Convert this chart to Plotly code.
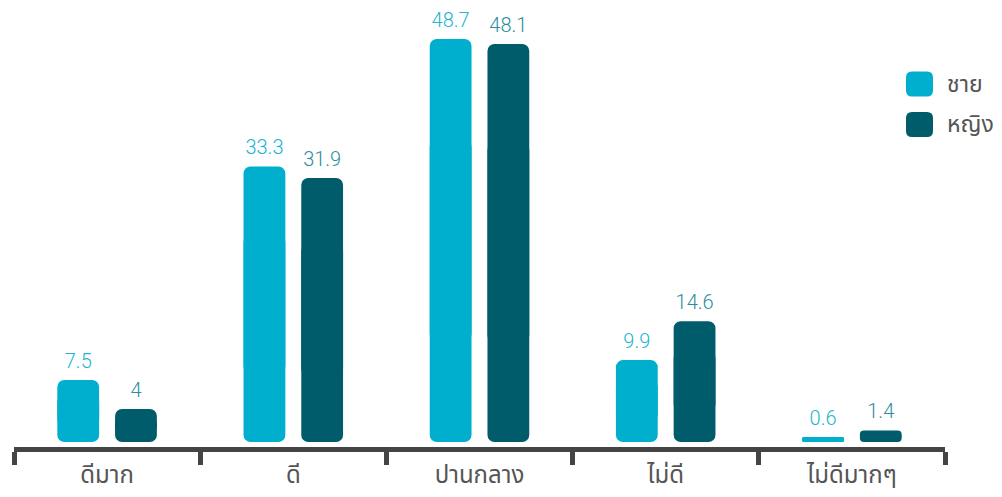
import plotly.graph_objects as go

categories = ["ดีมาก", "ดี", "ปานกลาง", "ไม่ดี", "ไม่ดีมากๆ"]
series_names = ["ชาย", "หญิง"]
male = [7.5, 33.3, 48.7, 9.9, 0.6]
female = [4.0, 31.9, 48.1, 14.6, 1.4]

bar_colors = ["#00AECE", "#005B6B"]
text_colors = ["#22B4D0", "#2B8E9E"]
FONT = "Roboto, 'Noto Sans Thai', 'Noto Sans', sans-serif"
LABEL_PAD = 0.5  # gap (in axis units) between bar end and its value label

# page body has an 8px margin; figure sized to fit the window
OFF = 8
W, H = 1002 - 2 * OFF, 497 - 2 * OFF
L, R, T, B = 6, 49, 12, 42
pw, ph = W - L - R, H - T - B

fig = go.Figure()
for name, vals, bc, tc, grp in [
    (series_names[0], male, bar_colors[0], text_colors[0], "m"),
    (series_names[1], female, bar_colors[1], text_colors[1], "f"),
]:
    lo = [v / 4 for v in vals]
    hi = [3 * v / 4 for v in vals]
    # upper part: rounded top
    fig.add_trace(go.Bar(
        x=categories, y=hi, base=lo, name=name, offsetgroup=grp,
        marker=dict(color=bc, cornerradius=7, line=dict(width=0)),
        showlegend=False, cliponaxis=False,
    ))
    # lower part: rounded bottom (overlaps the upper part in the middle)
    fig.add_trace(go.Bar(
        x=categories, y=[-h for h in hi], base=hi, name=name, offsetgroup=grp,
        marker=dict(color=bc, cornerradius=7, line=dict(width=0)),
        showlegend=False, cliponaxis=False,
    ))
    # transparent spacer sitting on the bar, carrying the value label
    fig.add_trace(go.Bar(
        x=categories, y=[LABEL_PAD] * len(vals), base=vals, name=name, offsetgroup=grp,
        marker=dict(color="rgba(0,0,0,0)", line=dict(width=0)),
        text=[f"{v:g}" for v in vals], textposition="outside",
        textfont=dict(color=tc, size=20, family=FONT, weight=300),
        constraintext="none", cliponaxis=False, showlegend=False, hoverinfo="skip",
    ))

# custom legend
def rr(w, h, r):
    x0, x1, y0, y1 = -w / 2, w / 2, -h / 2, h / 2
    return (f"M {x0+r},{y0} L {x1-r},{y0} Q {x1},{y0} {x1},{y0+r} L {x1},{y1-r} "
            f"Q {x1},{y1} {x1-r},{y1} L {x0+r},{y1} Q {x0},{y1} {x0},{y1-r} "
            f"L {x0},{y0+r} Q {x0},{y0} {x0+r},{y0} Z")

shapes, annotations = [], []
for i, (name, col) in enumerate(zip(series_names, bar_colors)):
    cy = 84 - OFF + i * 40.5
    yp = (T + ph - cy) / ph
    shapes.append(dict(type="path", xref="paper", yref="paper",
                       xsizemode="pixel", ysizemode="pixel",
                       xanchor=(919.5 - OFF - L) / pw, yanchor=yp,
                       path=rr(27, 25, 6), fillcolor=col, line=dict(width=0)))
    annotations.append(dict(xref="paper", yref="paper", x=(945 - OFF - L) / pw, y=yp,
                            xanchor="left", yanchor="middle", showarrow=False,
                            text=name, font=dict(size=23, color="#555555", family=FONT)))

fig.update_layout(
    width=W, height=H,
    margin=dict(l=L, r=R, t=T, b=B, autoexpand=False),
    paper_bgcolor="white", plot_bgcolor="white",
    barmode="group", bargap=0.38, bargroupgap=0.276,
    showlegend=False,
    shapes=shapes, annotations=annotations,
    xaxis=dict(
        type="category", range=[-0.5, 4.5], automargin=False,
        showline=True, linecolor="#444444", linewidth=5,
        ticks="outside", tickson="boundaries", ticklen=13, tickwidth=5, tickcolor="#444444",
        ticklabelstandoff=2,
        tickfont=dict(size=24, color="#555555", family=FONT),
        showgrid=False, zeroline=False,
    ),
    yaxis=dict(range=[-0.6, 51.0], visible=False, automargin=False,
               showgrid=False, zeroline=False),
)

fig.write_html("out.html")
